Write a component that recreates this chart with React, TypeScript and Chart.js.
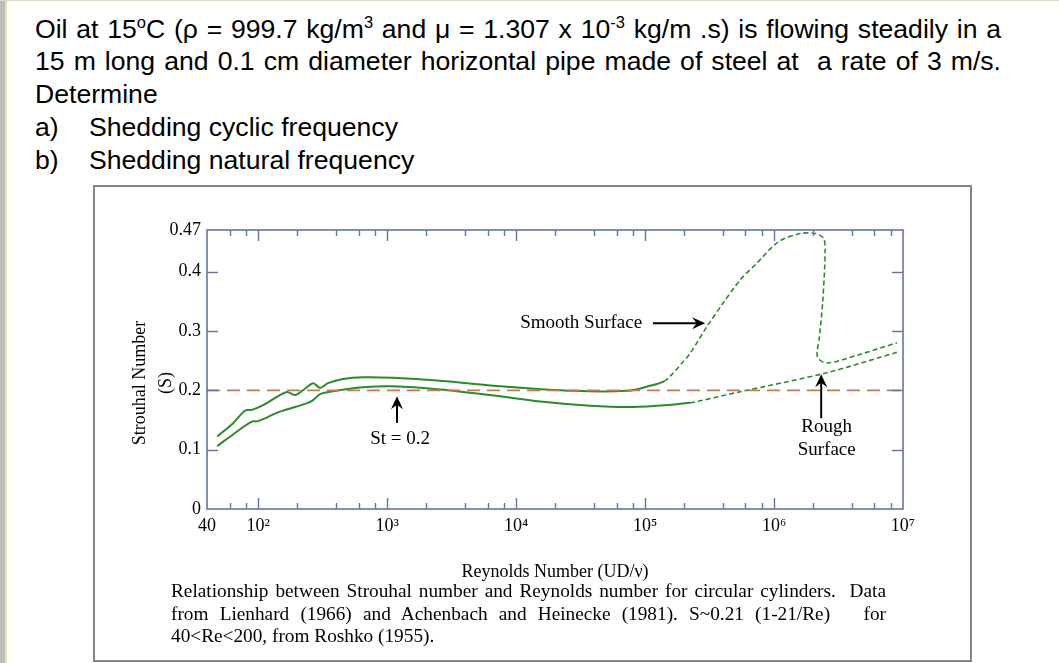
import React, { useEffect, useRef } from 'react';
import { Chart, registerables } from 'chart.js';

Chart.register(...registerables);

// ---------------- data ----------------
// Smooth-surface curve (upper band at low Re, then the high peak)
const smoothRe = [48, 64, 79, 89, 109, 166, 193, 222, 266, 301, 347, 454, 649, 1109, 2570, 8450, 27600, 72100, 103000, 140000, 165000, 197000, 223000, 301000, 403000, 546000, 735000, 1.08e6, 1.6e6, 2.09e6, 2.42e6, 2.49e6, 2.39e6, 2.25e6, 2.17e6, 2.57e6, 4.39e6, 8.97e6];
const smoothSt = [0.122, 0.145, 0.166, 0.167, 0.175, 0.197, 0.192, 0.200, 0.212, 0.204, 0.212, 0.219, 0.222, 0.221, 0.216, 0.206, 0.199, 0.199, 0.206, 0.215, 0.229, 0.248, 0.262, 0.307, 0.347, 0.386, 0.414, 0.450, 0.464, 0.464, 0.456, 0.436, 0.352, 0.290, 0.256, 0.246, 0.259, 0.280];
const smoothDashFromRe = 140000;

// Rough-surface curve (lower band)
const roughRe = [48, 64, 89, 99.5, 147, 237, 266, 301, 360, 649, 1109, 2570, 6280, 15300, 37400, 80700, 166000, 223000, 252000, 546000, 2.56e6, 8.97e6];
const roughSt = [0.106, 0.126, 0.147, 0.148, 0.164, 0.178, 0.1835, 0.1936, 0.1975, 0.205, 0.2066, 0.2015, 0.192, 0.181, 0.174, 0.172, 0.176, 0.179, 0.181, 0.1975, 0.2295, 0.264];
const roughDashFromRe = 200000;

// Reference line St = 0.2
const refRe = [40, 1e7];
const refSt = [0.2, 0.2];

// Axes
const xTickValues = [40, 1e2, 1e3, 1e4, 1e5, 1e6, 1e7];
const xTickLabels = ['40', '10²', '10³', '10⁴', '10⁵', '10⁶', '10⁷'];
const xMinorTicks = [60, 80, 200, 400, 600, 800, 2e3, 4e3, 6e3, 8e3, 2e4, 4e4, 6e4, 8e4, 2e5, 4e5, 6e5, 8e5, 2e6, 4e6, 6e6, 8e6];
const xMajorTicks = [1e2, 1e3, 1e4, 1e5, 1e6];
const yTickValues = [0, 0.1, 0.2, 0.3, 0.4, 0.47];
const yTickLabels = ['0', '0.1', '0.2', '0.3', '0.4', '0.47'];
const yMarkTicks = [0.1, 0.2, 0.3, 0.4];
const yTitleLines = ['Strouhal Number', '(S)'];

// Annotations (in data coordinates)
const noteTexts = [
  { lines: ['St = 0.2'], re: 1257, st: 0.118, align: 'center' },
  { lines: ['Smooth Surface'], re: 94800, st: 0.313, align: 'right' },
  { lines: ['Rough', 'Surface'], re: 2.56e6, st: 0.138, align: 'center' },
];
const noteArrows = [
  { fromRe: 1190, fromSt: 0.145, toRe: 1190, toSt: 0.19 },
  { fromRe: 115000, fromSt: 0.313, toRe: 292000, toSt: 0.313 },
  { fromRe: 2.32e6, fromSt: 0.153, toRe: 2.32e6, toSt: 0.227 },
];

const SERIF = "'Liberation Serif', 'Times New Roman', serif";
const AXIS = '#6474a4';
const GREEN = '#2b8a2b';
const PAD = '\u00a0'.repeat(6);

const framePlugin = {
  id: 'frame',
  afterDraw(chart: any) {
    const { ctx, chartArea, scales } = chart;
    const { left, right, top, bottom } = chartArea;
    const x = scales.x, y = scales.y;
    ctx.save();
    ctx.strokeStyle = AXIS;
    ctx.lineWidth = 1.6;
    ctx.strokeRect(left, top, right - left, bottom - top);
    ctx.lineWidth = 1.4;
    const seg = (x1: number, y1: number, x2: number, y2: number) => {
      ctx.beginPath(); ctx.moveTo(x1, y1); ctx.lineTo(x2, y2); ctx.stroke();
    };
    xMajorTicks.forEach((v) => {
      const px = Math.round(x.getPixelForValue(v)) + 0.5;
      seg(px, bottom, px, bottom - 11);
      seg(px, top, px, top + 11);
    });
    xMinorTicks.forEach((v) => {
      const px = Math.round(x.getPixelForValue(v)) + 0.5;
      seg(px, bottom, px, bottom - 6);
      seg(px, top, px, top + 6);
    });
    yMarkTicks.forEach((v) => {
      const py = Math.round(y.getPixelForValue(v)) + 0.5;
      seg(left, py, left + 11, py);
      seg(right, py, right - 11, py);
    });
    ctx.restore();
  },
};

const notesPlugin = {
  id: 'notes',
  afterDraw(chart: any) {
    const { ctx, scales } = chart;
    const x = scales.x, y = scales.y;
    ctx.save();
    ctx.fillStyle = '#000';
    ctx.strokeStyle = '#000';
    ctx.font = `19px ${SERIF}`;
    ctx.textBaseline = 'middle';
    noteTexts.forEach((n) => {
      ctx.textAlign = n.align as CanvasTextAlign;
      const px = x.getPixelForValue(n.re);
      const py = y.getPixelForValue(n.st);
      n.lines.forEach((l, i) => ctx.fillText(l, px, py + i * 23));
    });
    noteArrows.forEach((a) => {
      const x1 = x.getPixelForValue(a.fromRe), y1 = y.getPixelForValue(a.fromSt);
      const x2 = x.getPixelForValue(a.toRe), y2 = y.getPixelForValue(a.toSt);
      const ang = Math.atan2(y2 - y1, x2 - x1);
      const L = 13, Wd = 6;
      ctx.lineWidth = 2;
      ctx.beginPath();
      ctx.moveTo(x1, y1);
      ctx.lineTo(x2 - Math.cos(ang) * 8, y2 - Math.sin(ang) * 8);
      ctx.stroke();
      const bx = x2 - Math.cos(ang) * L, by = y2 - Math.sin(ang) * L;
      const nx = -Math.sin(ang), ny = Math.cos(ang);
      const mx = x2 - Math.cos(ang) * (L * 0.65), my = y2 - Math.sin(ang) * (L * 0.65);
      ctx.beginPath();
      ctx.moveTo(x2, y2);
      ctx.lineTo(bx + nx * Wd, by + ny * Wd);
      ctx.lineTo(mx, my);
      ctx.lineTo(bx - nx * Wd, by - ny * Wd);
      ctx.closePath();
      ctx.fill();
    });
    ctx.restore();
  },
};

function ChartCanvas() {
  const ref = useRef<HTMLCanvasElement>(null);
  useEffect(() => {
    const canvas = ref.current!;
    const chart = new Chart(canvas, {
      type: 'line',
      data: {
        datasets: [
          {
            label: 'St = 0.2',
            data: refRe.map((v, i) => ({ x: v, y: refSt[i] })),
            borderColor: '#c67a54',
            borderWidth: 1.7,
            borderDash: [13, 7],
            pointRadius: 0,
            tension: 0,
          },
          {
            label: 'Smooth surface',
            data: smoothRe.map((v, i) => ({ x: v, y: smoothSt[i] })),
            borderColor: GREEN,
            borderWidth: 2,
            pointRadius: 0,
            tension: 0.3,
            segment: {
              borderDash: (c: any) => (c.p0.parsed.x >= smoothDashFromRe ? [5, 3] : undefined),
              borderWidth: (c: any) => (c.p0.parsed.x >= smoothDashFromRe ? 1.6 : 2),
            },
          },
          {
            label: 'Rough surface',
            data: roughRe.map((v, i) => ({ x: v, y: roughSt[i] })),
            borderColor: GREEN,
            borderWidth: 2,
            pointRadius: 0,
            tension: 0.3,
            segment: {
              borderDash: (c: any) => (c.p0.parsed.x >= roughDashFromRe ? [5, 3] : undefined),
              borderWidth: (c: any) => (c.p0.parsed.x >= roughDashFromRe ? 1.6 : 2),
            },
          },
        ],
      },
      options: {
        responsive: false,
        animation: false,
        parsing: false as any,
        layout: { padding: { left: 95, right: 156, top: 230, bottom: 80 } },
        plugins: { legend: { display: false }, tooltip: { enabled: false } },
        scales: {
          x: {
            type: 'logarithmic',
            min: 40,
            max: 1e7,
            position: 'bottom',
            grid: { display: false, drawTicks: false },
            border: { display: false },
            afterBuildTicks: (s: any) => { s.ticks = xTickValues.map((v) => ({ value: v })); },
            afterFit: (s: any) => { s.height = 74; },
            ticks: {
              autoSkip: false,
              maxRotation: 0,
              padding: 6,
              color: '#000',
              font: { family: SERIF, size: 18 },
              callback: (_v: any, i: number) => xTickLabels[i],
            },
            title: {
              display: true,
              text: 'Reynolds Number (UD/ν)',
              color: '#000',
              font: { family: SERIF, size: 18 },
              padding: 0,
            },
          },
          y: {
            type: 'linear',
            min: 0,
            max: 0.47,
            grid: { display: false, drawTicks: false },
            border: { display: false },
            afterBuildTicks: (s: any) => { s.ticks = yTickValues.map((v) => ({ value: v })); },
            afterFit: (s: any) => { s.width = 207 - 95; },
            ticks: {
              padding: 6,
              color: '#000',
              font: { family: SERIF, size: 18 },
              callback: (_v: any, i: number) => yTickLabels[i],
            },
            title: {
              display: true,
              text: yTitleLines.map((t) => t + PAD),
              color: '#000',
              font: { family: SERIF, size: 18, lineHeight: 1.4 },
              padding: { top: 33, bottom: 0 },
            },
          },
        },
      } as any,
      plugins: [framePlugin, notesPlugin],
    });
    return () => chart.destroy();
  }, []);
  return <canvas ref={ref} width={1059} height={663} style={{ position: 'absolute', left: 0, top: 0, width: 1059, height: 663 }} />;
}

const supStyle: React.CSSProperties = { fontSize: 16.5, verticalAlign: 10, lineHeight: 0 };
const justLine: React.CSSProperties = { width: 966, textAlign: 'justify', textAlignLast: 'justify' };

export default function App() {
  return (
    <div style={{ position: 'fixed', left: 0, top: 0, width: 1059, height: 663, background: '#fff', overflow: 'hidden' }}>
      <div style={{ position: 'absolute', left: 0, top: 0, width: 5, height: 663, background: '#bdbdbd' }} />
      <div style={{ position: 'absolute', left: 5, top: 0, width: 2, height: 663, background: '#e4e4a4' }} />
      <div style={{ position: 'absolute', left: 0, top: 0, width: 1059, height: 1, background: '#dcdcc6' }} />
      <div
        style={{
          position: 'absolute', left: 35, top: 12.5, fontFamily: "'Liberation Sans', Arial, sans-serif",
          fontSize: 26.6, lineHeight: '32.8px', color: '#000', whiteSpace: 'nowrap',
        }}
      >
        <div style={justLine}>Oil at 15<span style={supStyle}>o</span>C (ρ = 999.7 kg/m<span style={supStyle}>3</span> and μ = 1.307 x 10<span style={supStyle}>-3</span> kg/m .s) is flowing steadily in a</div>
        <div style={justLine}>15 m long and 0.1 cm diameter horizontal pipe made of steel at&nbsp; a rate of 3 m/s.</div>
        <div>Determine</div>
        <div><span style={{ display: 'inline-block', width: 54 }}>a)</span>Shedding cyclic frequency</div>
        <div><span style={{ display: 'inline-block', width: 54 }}>b)</span>Shedding natural frequency</div>
      </div>
      <div style={{ position: 'absolute', left: 93, top: 185, width: 879, height: 477, border: '2px solid #858585', boxSizing: 'border-box' }} />
      <ChartCanvas />
      <div
        style={{
          position: 'absolute', left: 171, top: 580, width: 715, fontFamily: SERIF, fontSize: 19.3,
          lineHeight: '22.5px', color: '#000', whiteSpace: 'nowrap',
        }}
      >
        <div style={{ textAlign: 'justify', textAlignLast: 'justify' }}>Relationship between Strouhal number and Reynolds number for circular cylinders.&nbsp; Data</div>
        <div style={{ textAlign: 'justify', textAlignLast: 'justify' }}>from Lienhard (1966) and Achenbach and Heinecke (1981). S~0.21 (1-21/Re)&nbsp;&nbsp; for</div>
        <div>40&lt;Re&lt;200, from Roshko (1955).</div>
      </div>
    </div>
  );
}
